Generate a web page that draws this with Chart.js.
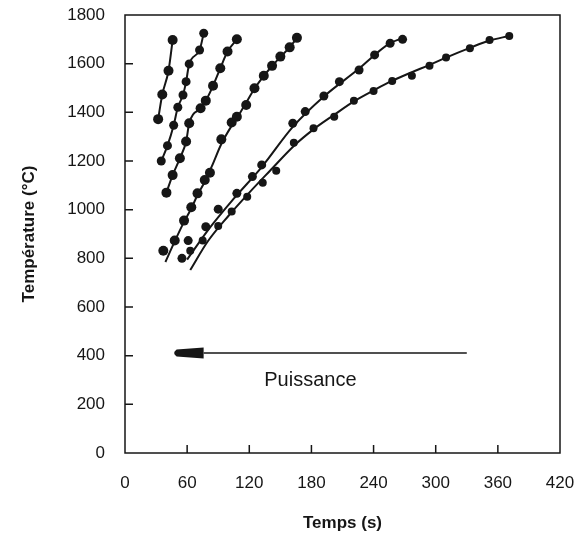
<!DOCTYPE html>
<html>
<head>
<meta charset="utf-8">
<script src="https://cdn.jsdelivr.net/npm/chart.js@4"></script>
<style>
  body { margin: 0; background: #fff; }
  #wrap { width: 584px; height: 534px; }
</style>
</head>
<body>
<div id="wrap"><canvas id="chart" width="584" height="534"></canvas></div>
<script>
// measured points, time (s) / temperature (°C)
const s1Time = [32, 36, 42, 46];
const s1Temp = [1372, 1473, 1571, 1697];

const s2Time = [35, 41, 47, 51, 56, 59, 62, 72, 76];
const s2Temp = [1200, 1263, 1347, 1421, 1471, 1526, 1599, 1656, 1725];

const s3Time = [40, 46, 53, 59, 62, 73, 78, 85, 92, 99, 108];
const s3Temp = [1070, 1142, 1211, 1280, 1355, 1417, 1448, 1509, 1581, 1650, 1700];

const s4Time = [37, 48, 57, 64, 70, 77, 82, 93, 103, 108, 117, 125, 134, 142, 150, 159, 166];
const s4Temp = [831, 873, 955, 1010, 1067, 1122, 1152, 1289, 1358, 1382, 1430, 1499, 1550, 1591, 1629, 1667, 1706];

const s5Time = [55, 61, 78, 90, 108, 123, 132, 162, 174, 192, 207, 226, 241, 256, 268];
const s5Temp = [800, 873, 930, 1002, 1067, 1136, 1184, 1355, 1403, 1467, 1526, 1574, 1636, 1684, 1700];

const s6Time = [63, 75, 90, 103, 118, 133, 146, 163, 182, 202, 221, 240, 258, 277, 294, 310, 333, 352, 371];
const s6Temp = [831, 873, 933, 992, 1053, 1111, 1160, 1275, 1335, 1382, 1448, 1488, 1529, 1550, 1591, 1625, 1663, 1697, 1714];

// fitted curves
const fit4Time = [39, 48, 57, 64, 70, 77, 84, 93, 103, 110, 117, 125, 134, 142, 150, 159, 166];
const fit4Temp = [785, 870, 950, 1005, 1060, 1115, 1180, 1270, 1345, 1390, 1440, 1497, 1550, 1590, 1628, 1667, 1706];
const fit5Time = [60, 80, 105, 132, 162, 192, 226, 241, 256, 268];
const fit5Temp = [795, 915, 1045, 1175, 1340, 1465, 1580, 1636, 1684, 1705];
const fit6Time = [63, 80, 100, 120, 140, 163, 182, 202, 221, 240, 258, 277, 294, 310, 333, 352, 371];
const fit6Temp = [752, 870, 975, 1070, 1160, 1262, 1330, 1390, 1445, 1490, 1530, 1565, 1595, 1625, 1665, 1695, 1714];

const xTicks = [0, 60, 120, 180, 240, 300, 360, 420];
const yTicks = [0, 200, 400, 600, 800, 1000, 1200, 1400, 1600, 1800];

// "Puissance" arrow, in data units
const arrowFrom = [330, 411];
const arrowTo = [46, 411];
const arrowLabel = 'Puissance';
const arrowLabelAt = [179, 296];

const ink = '#161616';
const fontFam = '"Liberation Sans", Arial, Helvetica, sans-serif';

function pts(xs, ys) {
    return xs.map((x, i) => ({ x: x, y: ys[i] }));
}

function curve(xs, ys) {
    return {
        data: pts(xs, ys),
        showLine: true,
        borderColor: ink,
        borderWidth: 2,
        pointRadius: 0,
        tension: 0.3,
        cubicInterpolationMode: 'monotone'
    };
}

function dots(xs, ys, r) {
    return {
        data: pts(xs, ys),
        showLine: false,
        pointRadius: r,
        pointBackgroundColor: ink,
        pointBorderColor: ink,
        pointBorderWidth: 0
    };
}

const frame = {
    id: 'frame',
    afterDatasetsDraw(chart) {
        const ctx = chart.ctx;
        const a = chart.chartArea;
        const xs = chart.scales.x;
        const ys = chart.scales.y;
        ctx.save();
        ctx.strokeStyle = ink;
        ctx.lineWidth = 1.5;
        ctx.strokeRect(a.left, a.top, a.right - a.left, a.bottom - a.top);

        // inward ticks
        ctx.beginPath();
        xTicks.slice(1, -1).forEach(v => {
            const px = xs.getPixelForValue(v);
            ctx.moveTo(px, a.bottom);
            ctx.lineTo(px, a.bottom - 8);
        });
        yTicks.slice(1, -1).forEach(v => {
            const py = ys.getPixelForValue(v);
            ctx.moveTo(a.left, py);
            ctx.lineTo(a.left + 8, py);
        });
        ctx.stroke();

        // arrow
        const x0 = xs.getPixelForValue(arrowFrom[0]);
        const x1 = xs.getPixelForValue(arrowTo[0]);
        const yA = ys.getPixelForValue(arrowFrom[1]);
        const headLen = 31;
        ctx.lineWidth = 1.5;
        ctx.beginPath();
        ctx.moveTo(x0, yA);
        ctx.lineTo(x1 + headLen, yA);
        ctx.stroke();
        ctx.fillStyle = ink;
        ctx.beginPath();
        ctx.moveTo(x1 + headLen, yA - 5.5);
        ctx.lineTo(x1 + headLen, yA + 5.5);
        ctx.lineTo(x1 + 4, yA + 3.5);
        ctx.quadraticCurveTo(x1 - 1, yA, x1 + 4, yA - 3.5);
        ctx.closePath();
        ctx.fill();

        ctx.font = '20px ' + fontFam;
        ctx.textAlign = 'center';
        ctx.textBaseline = 'middle';
        ctx.fillText(arrowLabel, xs.getPixelForValue(arrowLabelAt[0]), ys.getPixelForValue(arrowLabelAt[1]));
        ctx.restore();
    }
};

new Chart(document.getElementById('chart'), {
    type: 'scatter',
    data: {
        datasets: [
            curve(s1Time, s1Temp),
            curve(s2Time, s2Temp),
            curve(s3Time, s3Temp),
            curve(fit4Time, fit4Temp),
            curve(fit5Time, fit5Temp),
            curve(fit6Time, fit6Temp),
            dots(s1Time, s1Temp, 5),
            dots(s2Time, s2Temp, 4.5),
            dots(s3Time, s3Temp, 5),
            dots(s4Time, s4Temp, 5),
            dots(s5Time, s5Temp, 4.5),
            dots(s6Time, s6Temp, 4)
        ]
    },
    options: {
        responsive: false,
        animation: false,
        layout: { padding: { left: 0, right: 24, top: 15, bottom: 0 } },
        plugins: {
            legend: { display: false },
            tooltip: { enabled: false }
        },
        scales: {
            x: {
                type: 'linear',
                min: 0,
                max: 420,
                afterBuildTicks(s) { s.ticks = xTicks.map(v => ({ value: v })); },
                ticks: {
                    padding: 20,
                    color: ink,
                    font: { family: fontFam, size: 17 },
                    callback: v => String(v)
                },
                grid: { display: false, drawTicks: false },
                border: { display: false },
                title: {
                    display: true,
                    text: 'Temps (s)',
                    color: ink,
                    font: { family: fontFam, size: 17, weight: 'bold' },
                    padding: { top: 0, bottom: 0 }
                },
                afterFit(s) {
                    s.height = 81;
                    s.paddingLeft = 0;
                    s.paddingRight = 0;
                }
            },
            y: {
                min: 0,
                max: 1800,
                afterBuildTicks(s) { s.ticks = yTicks.map(v => ({ value: v })); },
                ticks: {
                    padding: 20,
                    color: ink,
                    font: { family: fontFam, size: 17 },
                    callback: v => String(v)
                },
                grid: { display: false, drawTicks: false },
                border: { display: false },
                title: {
                    display: true,
                    text: 'Température (°C)',
                    color: ink,
                    font: { family: fontFam, size: 17, weight: 'bold' },
                    padding: { top: 19, bottom: 0 }
                },
                afterFit(s) {
                    s.width = 125;
                    s.paddingTop = 0;
                    s.paddingBottom = 0;
                }
            }
        }
    },
    plugins: [frame]
});
</script>
</body>
</html>
